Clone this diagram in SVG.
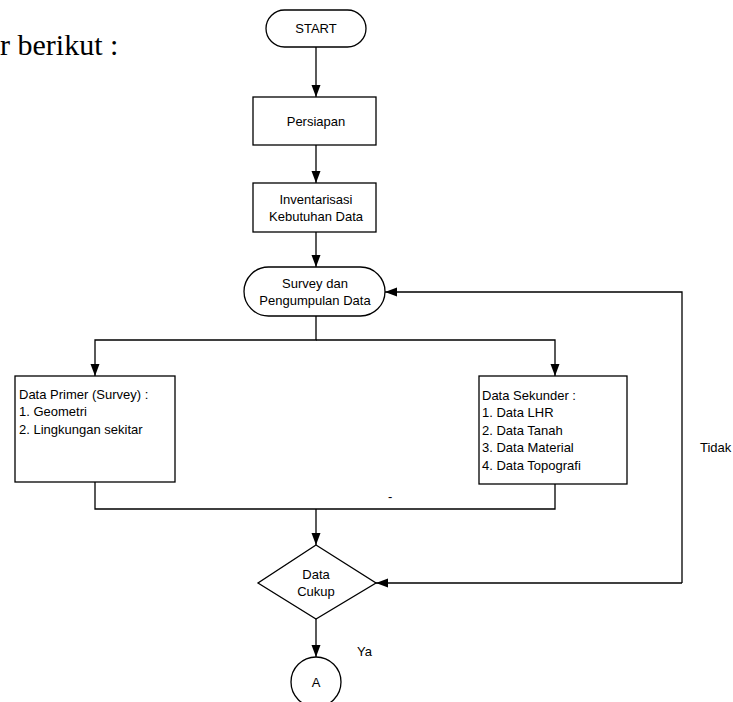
<svg xmlns="http://www.w3.org/2000/svg" width="733" height="702" viewBox="0 0 733 702">
<style>
.s{fill:#fff;stroke:#000;stroke-width:1.3}
.c{fill:none;stroke:#000;stroke-width:1.3}
.t{font-family:"Liberation Sans",Arial,sans-serif;font-size:13px;fill:#000}
.m{text-anchor:middle}
</style>
<defs>
<marker id="ah" viewBox="0 0 12 10" refX="12" refY="5" markerWidth="12" markerHeight="10" markerUnits="userSpaceOnUse" orient="auto">
<path d="M0,0.5 L12,5 L0,9.5 Z" fill="#000"/>
</marker>
</defs>
<rect width="733" height="702" fill="#fff"/>
<text x="0" y="55" font-family="Liberation Serif,serif" font-size="30" fill="#000">r berikut :</text>
<g id="connectors">
<line class="c" x1="316" y1="47" x2="316" y2="97" marker-end="url(#ah)"/>
<line class="c" x1="316" y1="145" x2="316" y2="183" marker-end="url(#ah)"/>
<line class="c" x1="316" y1="232" x2="316" y2="267" marker-end="url(#ah)"/>
<polyline class="c" points="316,316 316,340 95,340 95,376" marker-end="url(#ah)"/>
<polyline class="c" points="316,340 555,340 555,376" marker-end="url(#ah)"/>
<polyline class="c" points="95,482 95,509 555,509 555,484"/>
<line class="c" x1="316" y1="509" x2="316" y2="545" marker-end="url(#ah)"/>
<line class="c" x1="316" y1="619" x2="316" y2="657" marker-end="url(#ah)"/>
<line class="c" x1="682" y1="583" x2="376" y2="583" marker-end="url(#ah)"/>
<polyline class="c" points="682,583 682,292 385,292" marker-end="url(#ah)"/>
<text class="t" x="388" y="501">-</text>
<text class="t" x="700" y="452">Tidak</text>
<text class="t" x="357" y="656">Ya</text>
</g>
<g id="start">
<rect class="s" x="266" y="10" width="100" height="37" rx="18.5"/>
<text class="t m" x="316" y="33">START</text>
</g>
<g id="persiapan">
<rect class="s" x="253" y="97" width="123" height="48"/>
<text class="t m" x="316" y="126">Persiapan</text>
</g>
<g id="inventarisasi">
<rect class="s" x="253" y="183" width="123" height="49"/>
<text class="t m" x="316" y="204">Inventarisasi</text>
<text class="t m" x="316" y="221">Kebutuhan Data</text>
</g>
<g id="survey">
<rect class="s" x="244" y="267" width="141" height="49" rx="24.5"/>
<text class="t m" x="315" y="288">Survey dan</text>
<text class="t m" x="315" y="305">Pengumpulan Data</text>
</g>
<g id="primer">
<rect class="s" x="15" y="376" width="160" height="106"/>
<text class="t" x="19" y="399">Data Primer (Survey) :</text>
<text class="t" x="19" y="416">1. Geometri</text>
<text class="t" x="19" y="434">2. Lingkungan sekitar</text>
</g>
<g id="sekunder">
<rect class="s" x="479" y="376" width="148" height="108"/>
<text class="t" x="482" y="400">Data Sekunder :</text>
<text class="t" x="482" y="417">1. Data LHR</text>
<text class="t" x="482" y="435">2. Data Tanah</text>
<text class="t" x="482" y="452">3. Data Material</text>
<text class="t" x="482" y="470">4. Data Topografi</text>
</g>
<g id="cukup">
<polygon class="s" points="316,545 376,583 316,619 258,583"/>
<text class="t m" x="316" y="579">Data</text>
<text class="t m" x="316" y="596">Cukup</text>
</g>
<g id="a">
<circle class="s" cx="316" cy="682" r="25"/>
<text class="t m" x="316" y="687">A</text>
</g>
</svg>
